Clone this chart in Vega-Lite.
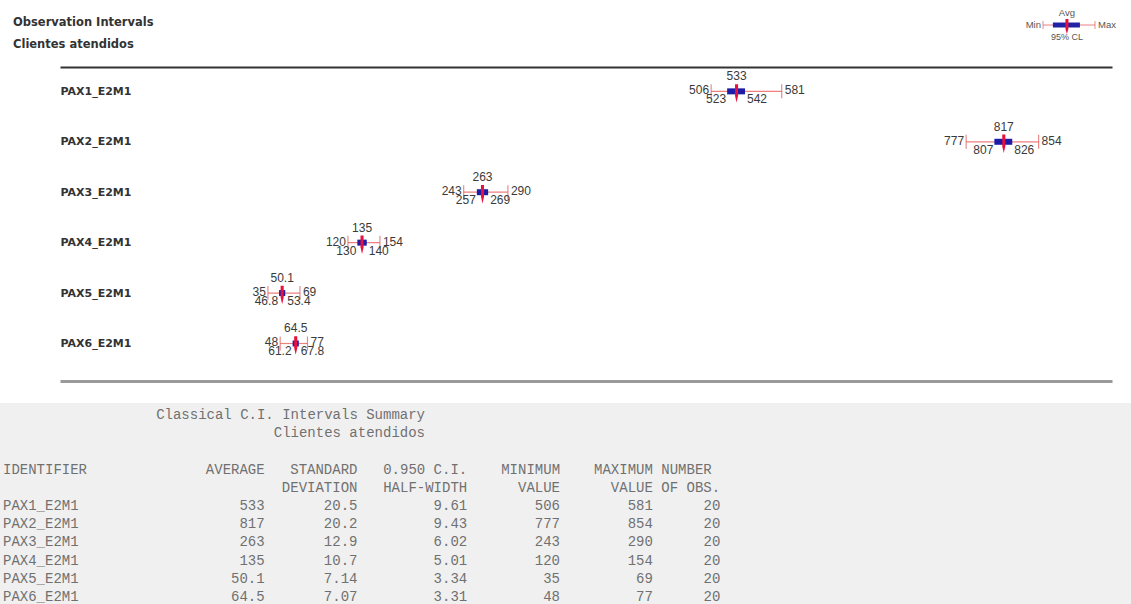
{
  "$schema": "https://vega.github.io/schema/vega-lite/v6.json",
  "padding": 0,
  "background": "white",
  "spacing": 0,
  "bounds": "flush",
  "config": {"view": {"stroke": null}},
  "datasets": {
    "ci": [
      {"id": "PAX1_E2M1", "avg": 533, "sd": 20.5, "hw": 9.61, "lo": 523, "hi": 542, "min": 506, "max": 581, "n": 20},
      {"id": "PAX2_E2M1", "avg": 817, "sd": 20.2, "hw": 9.43, "lo": 807, "hi": 826, "min": 777, "max": 854, "n": 20},
      {"id": "PAX3_E2M1", "avg": 263, "sd": 12.9, "hw": 6.02, "lo": 257, "hi": 269, "min": 243, "max": 290, "n": 20},
      {"id": "PAX4_E2M1", "avg": 135, "sd": 10.7, "hw": 5.01, "lo": 130, "hi": 140, "min": 120, "max": 154, "n": 20},
      {"id": "PAX5_E2M1", "avg": 50.1, "sd": 7.14, "hw": 3.34, "lo": 46.8, "hi": 53.4, "min": 35, "max": 69, "n": 20},
      {"id": "PAX6_E2M1", "avg": 64.5, "sd": 7.07, "hw": 3.31, "lo": 61.2, "hi": 67.8, "min": 48, "max": 77, "n": 20}
    ]
  },
  "vconcat": [
    {
      "width": 1131,
      "height": 50,
      "title": {
        "text": "Observation Intervals",
        "subtitle": "Clientes atendidos",
        "anchor": "start",
        "frame": "group",
        "orient": "top",
        "offset": -50,
        "dx": 13,
        "font": "DejaVu Sans",
        "fontSize": 11.5,
        "fontWeight": "bold",
        "color": "#333",
        "subtitleFont": "DejaVu Sans",
        "subtitleFontSize": 11.5,
        "subtitleFontWeight": "bold",
        "subtitleColor": "#333",
        "subtitlePadding": 10
      },
      "data": {"values": [{"key": "95% CL", "min": 0, "lo": 0.19, "avg": 0.46, "hi": 0.71, "max": 1}]},
      "encoding": {"y": {"field": "key", "type": "nominal", "scale": {"type": "point"}, "axis": null}},
      "layer": [
        {"mark": {"type": "rule", "color": "#ee8080", "strokeWidth": 1},
         "encoding": {"x": {"field": "min", "type": "quantitative", "scale": {"domain": [0, 1], "range": [1043, 1095], "nice": false, "zero": false}, "axis": null}, "x2": {"field": "max"}}},
        {"mark": {"type": "tick", "color": "#e06060", "size": 8, "thickness": 1},
         "encoding": {"x": {"field": "min", "type": "quantitative", "scale": {"domain": [0, 1], "range": [1043, 1095], "nice": false, "zero": false}, "axis": null}}},
        {"mark": {"type": "tick", "color": "#e06060", "size": 8, "thickness": 1},
         "encoding": {"x": {"field": "max", "type": "quantitative", "scale": {"domain": [0, 1], "range": [1043, 1095], "nice": false, "zero": false}, "axis": null}}},
        {"mark": {"type": "rule", "color": "#2222a6", "strokeWidth": 5},
         "encoding": {"x": {"field": "lo", "type": "quantitative", "scale": {"domain": [0, 1], "range": [1043, 1095], "nice": false, "zero": false}, "axis": null}, "x2": {"field": "hi"}}},
        {"mark": {"type": "point", "filled": true, "color": "#e8103c", "opacity": 1, "size": 225, "shape": "M-0.2,-0.8L0.2,-0.8L0.2,0.5L0,1.2L-0.2,0.5Z"},
         "encoding": {"x": {"field": "avg", "type": "quantitative", "scale": {"domain": [0, 1], "range": [1043, 1095], "nice": false, "zero": false}, "axis": null}}},
        {"mark": {"type": "text", "align": "right", "dx": -2, "font": "Liberation Sans", "fontSize": 9.5, "color": "#555"},
         "encoding": {"x": {"field": "min", "type": "quantitative", "scale": {"domain": [0, 1], "range": [1043, 1095], "nice": false, "zero": false}, "axis": null}, "text": {"value": "Min"}}},
        {"mark": {"type": "text", "align": "left", "dx": 3, "font": "Liberation Sans", "fontSize": 9.5, "color": "#555"},
         "encoding": {"x": {"field": "max", "type": "quantitative", "scale": {"domain": [0, 1], "range": [1043, 1095], "nice": false, "zero": false}, "axis": null}, "text": {"value": "Max"}}},
        {"mark": {"type": "text", "align": "center", "dy": -12, "font": "Liberation Sans", "fontSize": 9.5, "color": "#555"},
         "encoding": {"x": {"field": "avg", "type": "quantitative", "scale": {"domain": [0, 1], "range": [1043, 1095], "nice": false, "zero": false}, "axis": null}, "text": {"value": "Avg"}}},
        {"mark": {"type": "text", "align": "center", "dy": 12, "font": "Liberation Sans", "fontSize": 9, "color": "#555"},
         "encoding": {"x": {"field": "avg", "type": "quantitative", "scale": {"domain": [0, 1], "range": [1043, 1095], "nice": false, "zero": false}, "axis": null}, "text": {"field": "key"}}}
      ]
    },
    {
      "width": 1131,
      "height": 353,
      "data": {"name": "ci"},
      "encoding": {
        "y": {
          "field": "id", "type": "nominal",
          "scale": {"type": "point", "domain": ["PAX1_E2M1", "PAX2_E2M1", "PAX3_E2M1", "PAX4_E2M1", "PAX5_E2M1", "PAX6_E2M1"], "padding": 1.162, "align": 0.41},
          "axis": {"orient": "left", "title": null, "domain": false, "ticks": false, "grid": false, "labelAlign": "left", "labelPadding": -60, "labelFont": "DejaVu Sans", "labelFontSize": 11, "labelFontWeight": "bold", "labelColor": "#333"}
        }
      },
      "resolve": {"axis": {"x": "independent"}},
      "layer": [
        {"mark": {"type": "rule", "color": "#ee8080", "strokeWidth": 1.2},
         "encoding": {
           "x": {"field": "min", "type": "quantitative", "scale": {"domain": [-186, 932], "range": [60, 1112], "nice": false, "zero": false},
                 "axis": {"orient": "top", "offset": -17, "title": null, "labels": false, "ticks": false, "grid": false, "domain": true, "domainColor": "#333", "domainWidth": 2}},
           "x2": {"field": "max"}}},
        {"mark": {"type": "tick", "color": "#e05a5a", "size": 14, "thickness": 1.2},
         "encoding": {
           "x": {"field": "min", "type": "quantitative", "scale": {"domain": [-186, 932], "range": [60, 1112], "nice": false, "zero": false},
                 "axis": {"orient": "bottom", "offset": -22, "title": null, "labels": false, "ticks": false, "grid": false, "domain": true, "domainColor": "#9a9a9a", "domainWidth": 3}}}},
        {"mark": {"type": "tick", "color": "#e05a5a", "size": 14, "thickness": 1.2},
         "encoding": {"x": {"field": "max", "type": "quantitative", "scale": {"domain": [-186, 932], "range": [60, 1112], "nice": false, "zero": false}, "axis": null}}},
        {"mark": {"type": "rule", "color": "#1c1ca8", "strokeWidth": 6},
         "encoding": {"x": {"field": "lo", "type": "quantitative", "scale": {"domain": [-186, 932], "range": [60, 1112], "nice": false, "zero": false}, "axis": null}, "x2": {"field": "hi"}}},
        {"mark": {"type": "point", "filled": true, "color": "#e8103c", "opacity": 1, "size": 324, "shape": "M-0.17,-0.8L0.17,-0.8L0.17,0.5L0,1.25L-0.17,0.5Z"},
         "encoding": {"x": {"field": "avg", "type": "quantitative", "scale": {"domain": [-186, 932], "range": [60, 1112], "nice": false, "zero": false}, "axis": null}}},
        {"mark": {"type": "text", "align": "center", "dy": -15, "font": "Liberation Sans", "fontSize": 12, "color": "#3a3a3a"},
         "encoding": {"x": {"field": "avg", "type": "quantitative", "scale": {"domain": [-186, 932], "range": [60, 1112], "nice": false, "zero": false}, "axis": null}, "text": {"field": "avg", "type": "quantitative", "format": ".3~r"}}},
        {"mark": {"type": "text", "align": "right", "dx": -1, "dy": 8, "font": "Liberation Sans", "fontSize": 12, "color": "#3a3a3a"},
         "encoding": {"x": {"field": "lo", "type": "quantitative", "scale": {"domain": [-186, 932], "range": [60, 1112], "nice": false, "zero": false}, "axis": null}, "text": {"field": "lo", "type": "quantitative", "format": ".3~r"}}},
        {"mark": {"type": "text", "align": "left", "dx": 2, "dy": 8, "font": "Liberation Sans", "fontSize": 12, "color": "#3a3a3a"},
         "encoding": {"x": {"field": "hi", "type": "quantitative", "scale": {"domain": [-186, 932], "range": [60, 1112], "nice": false, "zero": false}, "axis": null}, "text": {"field": "hi", "type": "quantitative", "format": ".3~r"}}},
        {"mark": {"type": "text", "align": "right", "dx": -2, "dy": -1, "font": "Liberation Sans", "fontSize": 12, "color": "#3a3a3a"},
         "encoding": {"x": {"field": "min", "type": "quantitative", "scale": {"domain": [-186, 932], "range": [60, 1112], "nice": false, "zero": false}, "axis": null}, "text": {"field": "min", "type": "quantitative", "format": ".3~r"}}},
        {"mark": {"type": "text", "align": "left", "dx": 3, "dy": -1, "font": "Liberation Sans", "fontSize": 12, "color": "#3a3a3a"},
         "encoding": {"x": {"field": "max", "type": "quantitative", "scale": {"domain": [-186, 932], "range": [60, 1112], "nice": false, "zero": false}, "axis": null}, "text": {"field": "max", "type": "quantitative", "format": ".3~r"}}}
      ]
    },
    {
      "width": 1131,
      "height": 201,
      "view": {"fill": "#f0f0f0", "stroke": null},
      "layer": [
        {"data": {"values": [{"line": "title", "text": "Classical C.I. Intervals Summary"}, {"line": "subtitle", "text": "Clientes atendidos"}]},
         "mark": {"type": "text", "align": "right", "font": "Liberation Mono", "fontSize": 14, "color": "#707070"},
         "encoding": {
           "x": {"datum": 50, "type": "quantitative", "scale": {"domain": [-0.355, 133.65], "nice": false, "zero": false},
                 "axis": {"orient": "top", "title": null, "labels": false, "ticks": false, "grid": false, "domain": true, "domainColor": "#a0a0a0", "domainWidth": 2}},
           "y": {"field": "line", "type": "nominal", "scale": {"type": "point", "domain": ["title", "subtitle", "blank", "head1", "head2", "PAX1_E2M1", "PAX2_E2M1", "PAX3_E2M1", "PAX4_E2M1", "PAX5_E2M1", "PAX6_E2M1"], "padding": 0.522, "align": 0.632}, "axis": null},
           "text": {"field": "text"}}},
        {"data": {"values": [{"line": "head1", "text": "IDENTIFIER"}]},
         "mark": {"type": "text", "align": "left", "font": "Liberation Mono", "fontSize": 14, "color": "#707070"},
         "encoding": {
           "x": {"datum": 0, "type": "quantitative", "scale": {"domain": [-0.355, 133.65], "nice": false, "zero": false}, "axis": null},
           "y": {"field": "line", "type": "nominal", "scale": {"type": "point", "domain": ["title", "subtitle", "blank", "head1", "head2", "PAX1_E2M1", "PAX2_E2M1", "PAX3_E2M1", "PAX4_E2M1", "PAX5_E2M1", "PAX6_E2M1"], "padding": 0.522, "align": 0.632}, "axis": null},
           "text": {"field": "text"}}},
        {"data": {"name": "ci"},
         "mark": {"type": "text", "align": "left", "font": "Liberation Mono", "fontSize": 14, "color": "#707070"},
         "encoding": {
           "x": {"datum": 0, "type": "quantitative", "scale": {"domain": [-0.355, 133.65], "nice": false, "zero": false}, "axis": null},
           "y": {"field": "id", "type": "nominal", "scale": {"type": "point", "domain": ["title", "subtitle", "blank", "head1", "head2", "PAX1_E2M1", "PAX2_E2M1", "PAX3_E2M1", "PAX4_E2M1", "PAX5_E2M1", "PAX6_E2M1"], "padding": 0.522, "align": 0.632}, "axis": null},
           "text": {"field": "id"}}},
        {"data": {"values": [{"line": "head1", "text": "AVERAGE"}]},
         "mark": {"type": "text", "align": "right", "font": "Liberation Mono", "fontSize": 14, "color": "#707070"},
         "encoding": {
           "x": {"datum": 31, "type": "quantitative", "scale": {"domain": [-0.355, 133.65], "nice": false, "zero": false}, "axis": null},
           "y": {"field": "line", "type": "nominal", "scale": {"type": "point", "domain": ["title", "subtitle", "blank", "head1", "head2", "PAX1_E2M1", "PAX2_E2M1", "PAX3_E2M1", "PAX4_E2M1", "PAX5_E2M1", "PAX6_E2M1"], "padding": 0.522, "align": 0.632}, "axis": null},
           "text": {"field": "text"}}},
        {"data": {"name": "ci"},
         "mark": {"type": "text", "align": "right", "font": "Liberation Mono", "fontSize": 14, "color": "#707070"},
         "encoding": {
           "x": {"datum": 31, "type": "quantitative", "scale": {"domain": [-0.355, 133.65], "nice": false, "zero": false}, "axis": null},
           "y": {"field": "id", "type": "nominal", "scale": {"type": "point", "domain": ["title", "subtitle", "blank", "head1", "head2", "PAX1_E2M1", "PAX2_E2M1", "PAX3_E2M1", "PAX4_E2M1", "PAX5_E2M1", "PAX6_E2M1"], "padding": 0.522, "align": 0.632}, "axis": null},
           "text": {"field": "avg", "type": "quantitative", "format": ".3~r"}}},
        {"data": {"values": [{"line": "head1", "text": "STANDARD"}, {"line": "head2", "text": "DEVIATION"}]},
         "mark": {"type": "text", "align": "right", "font": "Liberation Mono", "fontSize": 14, "color": "#707070"},
         "encoding": {
           "x": {"datum": 42, "type": "quantitative", "scale": {"domain": [-0.355, 133.65], "nice": false, "zero": false}, "axis": null},
           "y": {"field": "line", "type": "nominal", "scale": {"type": "point", "domain": ["title", "subtitle", "blank", "head1", "head2", "PAX1_E2M1", "PAX2_E2M1", "PAX3_E2M1", "PAX4_E2M1", "PAX5_E2M1", "PAX6_E2M1"], "padding": 0.522, "align": 0.632}, "axis": null},
           "text": {"field": "text"}}},
        {"data": {"name": "ci"},
         "mark": {"type": "text", "align": "right", "font": "Liberation Mono", "fontSize": 14, "color": "#707070"},
         "encoding": {
           "x": {"datum": 42, "type": "quantitative", "scale": {"domain": [-0.355, 133.65], "nice": false, "zero": false}, "axis": null},
           "y": {"field": "id", "type": "nominal", "scale": {"type": "point", "domain": ["title", "subtitle", "blank", "head1", "head2", "PAX1_E2M1", "PAX2_E2M1", "PAX3_E2M1", "PAX4_E2M1", "PAX5_E2M1", "PAX6_E2M1"], "padding": 0.522, "align": 0.632}, "axis": null},
           "text": {"field": "sd", "type": "quantitative", "format": ".3~r"}}},
        {"data": {"values": [{"line": "head1", "text": "0.950 C.I."}, {"line": "head2", "text": "HALF-WIDTH"}]},
         "mark": {"type": "text", "align": "right", "font": "Liberation Mono", "fontSize": 14, "color": "#707070"},
         "encoding": {
           "x": {"datum": 55, "type": "quantitative", "scale": {"domain": [-0.355, 133.65], "nice": false, "zero": false}, "axis": null},
           "y": {"field": "line", "type": "nominal", "scale": {"type": "point", "domain": ["title", "subtitle", "blank", "head1", "head2", "PAX1_E2M1", "PAX2_E2M1", "PAX3_E2M1", "PAX4_E2M1", "PAX5_E2M1", "PAX6_E2M1"], "padding": 0.522, "align": 0.632}, "axis": null},
           "text": {"field": "text"}}},
        {"data": {"name": "ci"},
         "mark": {"type": "text", "align": "right", "font": "Liberation Mono", "fontSize": 14, "color": "#707070"},
         "encoding": {
           "x": {"datum": 55, "type": "quantitative", "scale": {"domain": [-0.355, 133.65], "nice": false, "zero": false}, "axis": null},
           "y": {"field": "id", "type": "nominal", "scale": {"type": "point", "domain": ["title", "subtitle", "blank", "head1", "head2", "PAX1_E2M1", "PAX2_E2M1", "PAX3_E2M1", "PAX4_E2M1", "PAX5_E2M1", "PAX6_E2M1"], "padding": 0.522, "align": 0.632}, "axis": null},
           "text": {"field": "hw", "type": "quantitative", "format": ".3~r"}}},
        {"data": {"values": [{"line": "head1", "text": "MINIMUM"}, {"line": "head2", "text": "VALUE"}]},
         "mark": {"type": "text", "align": "right", "font": "Liberation Mono", "fontSize": 14, "color": "#707070"},
         "encoding": {
           "x": {"datum": 66, "type": "quantitative", "scale": {"domain": [-0.355, 133.65], "nice": false, "zero": false}, "axis": null},
           "y": {"field": "line", "type": "nominal", "scale": {"type": "point", "domain": ["title", "subtitle", "blank", "head1", "head2", "PAX1_E2M1", "PAX2_E2M1", "PAX3_E2M1", "PAX4_E2M1", "PAX5_E2M1", "PAX6_E2M1"], "padding": 0.522, "align": 0.632}, "axis": null},
           "text": {"field": "text"}}},
        {"data": {"name": "ci"},
         "mark": {"type": "text", "align": "right", "font": "Liberation Mono", "fontSize": 14, "color": "#707070"},
         "encoding": {
           "x": {"datum": 66, "type": "quantitative", "scale": {"domain": [-0.355, 133.65], "nice": false, "zero": false}, "axis": null},
           "y": {"field": "id", "type": "nominal", "scale": {"type": "point", "domain": ["title", "subtitle", "blank", "head1", "head2", "PAX1_E2M1", "PAX2_E2M1", "PAX3_E2M1", "PAX4_E2M1", "PAX5_E2M1", "PAX6_E2M1"], "padding": 0.522, "align": 0.632}, "axis": null},
           "text": {"field": "min", "type": "quantitative", "format": ".3~r"}}},
        {"data": {"values": [{"line": "head1", "text": "MAXIMUM"}, {"line": "head2", "text": "VALUE"}]},
         "mark": {"type": "text", "align": "right", "font": "Liberation Mono", "fontSize": 14, "color": "#707070"},
         "encoding": {
           "x": {"datum": 77, "type": "quantitative", "scale": {"domain": [-0.355, 133.65], "nice": false, "zero": false}, "axis": null},
           "y": {"field": "line", "type": "nominal", "scale": {"type": "point", "domain": ["title", "subtitle", "blank", "head1", "head2", "PAX1_E2M1", "PAX2_E2M1", "PAX3_E2M1", "PAX4_E2M1", "PAX5_E2M1", "PAX6_E2M1"], "padding": 0.522, "align": 0.632}, "axis": null},
           "text": {"field": "text"}}},
        {"data": {"name": "ci"},
         "mark": {"type": "text", "align": "right", "font": "Liberation Mono", "fontSize": 14, "color": "#707070"},
         "encoding": {
           "x": {"datum": 77, "type": "quantitative", "scale": {"domain": [-0.355, 133.65], "nice": false, "zero": false}, "axis": null},
           "y": {"field": "id", "type": "nominal", "scale": {"type": "point", "domain": ["title", "subtitle", "blank", "head1", "head2", "PAX1_E2M1", "PAX2_E2M1", "PAX3_E2M1", "PAX4_E2M1", "PAX5_E2M1", "PAX6_E2M1"], "padding": 0.522, "align": 0.632}, "axis": null},
           "text": {"field": "max", "type": "quantitative", "format": ".3~r"}}},
        {"data": {"values": [{"line": "head1", "text": "NUMBER"}, {"line": "head2", "text": "OF OBS."}]},
         "mark": {"type": "text", "align": "left", "font": "Liberation Mono", "fontSize": 14, "color": "#707070"},
         "encoding": {
           "x": {"datum": 78, "type": "quantitative", "scale": {"domain": [-0.355, 133.65], "nice": false, "zero": false}, "axis": null},
           "y": {"field": "line", "type": "nominal", "scale": {"type": "point", "domain": ["title", "subtitle", "blank", "head1", "head2", "PAX1_E2M1", "PAX2_E2M1", "PAX3_E2M1", "PAX4_E2M1", "PAX5_E2M1", "PAX6_E2M1"], "padding": 0.522, "align": 0.632}, "axis": null},
           "text": {"field": "text"}}},
        {"data": {"name": "ci"},
         "mark": {"type": "text", "align": "right", "font": "Liberation Mono", "fontSize": 14, "color": "#707070"},
         "encoding": {
           "x": {"datum": 85, "type": "quantitative", "scale": {"domain": [-0.355, 133.65], "nice": false, "zero": false}, "axis": null},
           "y": {"field": "id", "type": "nominal", "scale": {"type": "point", "domain": ["title", "subtitle", "blank", "head1", "head2", "PAX1_E2M1", "PAX2_E2M1", "PAX3_E2M1", "PAX4_E2M1", "PAX5_E2M1", "PAX6_E2M1"], "padding": 0.522, "align": 0.632}, "axis": null},
           "text": {"field": "n", "type": "quantitative", "format": "d"}}}
      ]
    }
  ]
}
